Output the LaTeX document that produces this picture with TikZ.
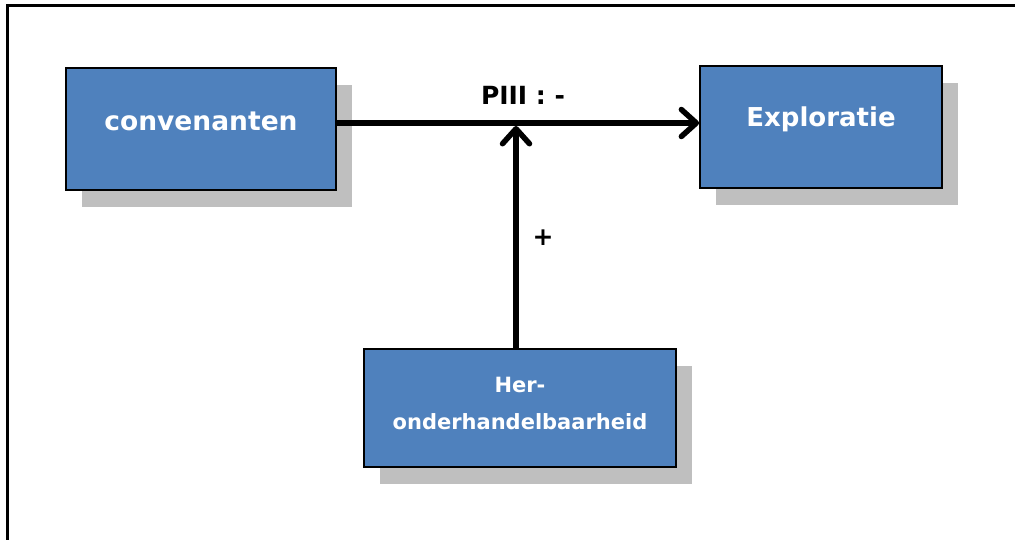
\documentclass[tikz,border=0pt]{standalone}
\usepackage{fontspec}
\setmainfont{DejaVu Sans}
\usetikzlibrary{arrows.meta,shadows}
\definecolor{boxblue}{HTML}{4F81BD}
\definecolor{shadowgray}{HTML}{BFBFBF}
\begin{document}
\begin{tikzpicture}[x=1pt,y=-1pt,
  box/.style={draw=black,line width=1.8pt,fill=boxblue,inner sep=0pt,
    drop shadow={shadow xshift=16pt,shadow yshift=-17pt,fill=shadowgray,opacity=1}},
  boxtext/.style={text=white,inner sep=0pt,align=center},
  conn/.style={line width=5.5pt,-{Straight Barb[round,length=15pt,width=27pt]}},
  lbl/.style={inner sep=0pt}]
\useasboundingbox (0,0) rectangle (1015,540);
\clip (0,0) rectangle (1015,540);
\draw[line width=3pt] (7,560) -- (7,6) -- (1030,6);
\node[box,minimum width=270pt,minimum height=122pt] (conv) at (201,129) {};
\node[box,minimum width=242pt,minimum height=122pt] (expl) at (821,127) {};
\node[box,minimum width=312pt,minimum height=118pt] (her) at (520,408) {};
\node[boxtext,font=\fontsize{26.5}{30}\selectfont\bfseries] (convT) at (201,121) {convenanten};
\node[boxtext,font=\fontsize{26}{30}\selectfont\bfseries] (explT) at (821,119) {Exploratie};
\node[boxtext,font=\fontsize{21}{37}\selectfont\bfseries] (herT) at (520,403) {Her-\\onderhandelbaarheid};
\coordinate (mid) at (516,126);
\draw[conn] (conv.east |- 0,123) -- (expl.west |- 0,123);
\draw[conn] (her.north -| mid) -- (mid);
\node[lbl,font=\fontsize{25}{28}\selectfont\bfseries] (p3) at (523,95) {PIII : -};
\node[lbl,font=\fontsize{25}{28}\selectfont\bfseries] (plus) at (543,238) {+};
\end{tikzpicture}
\end{document}
